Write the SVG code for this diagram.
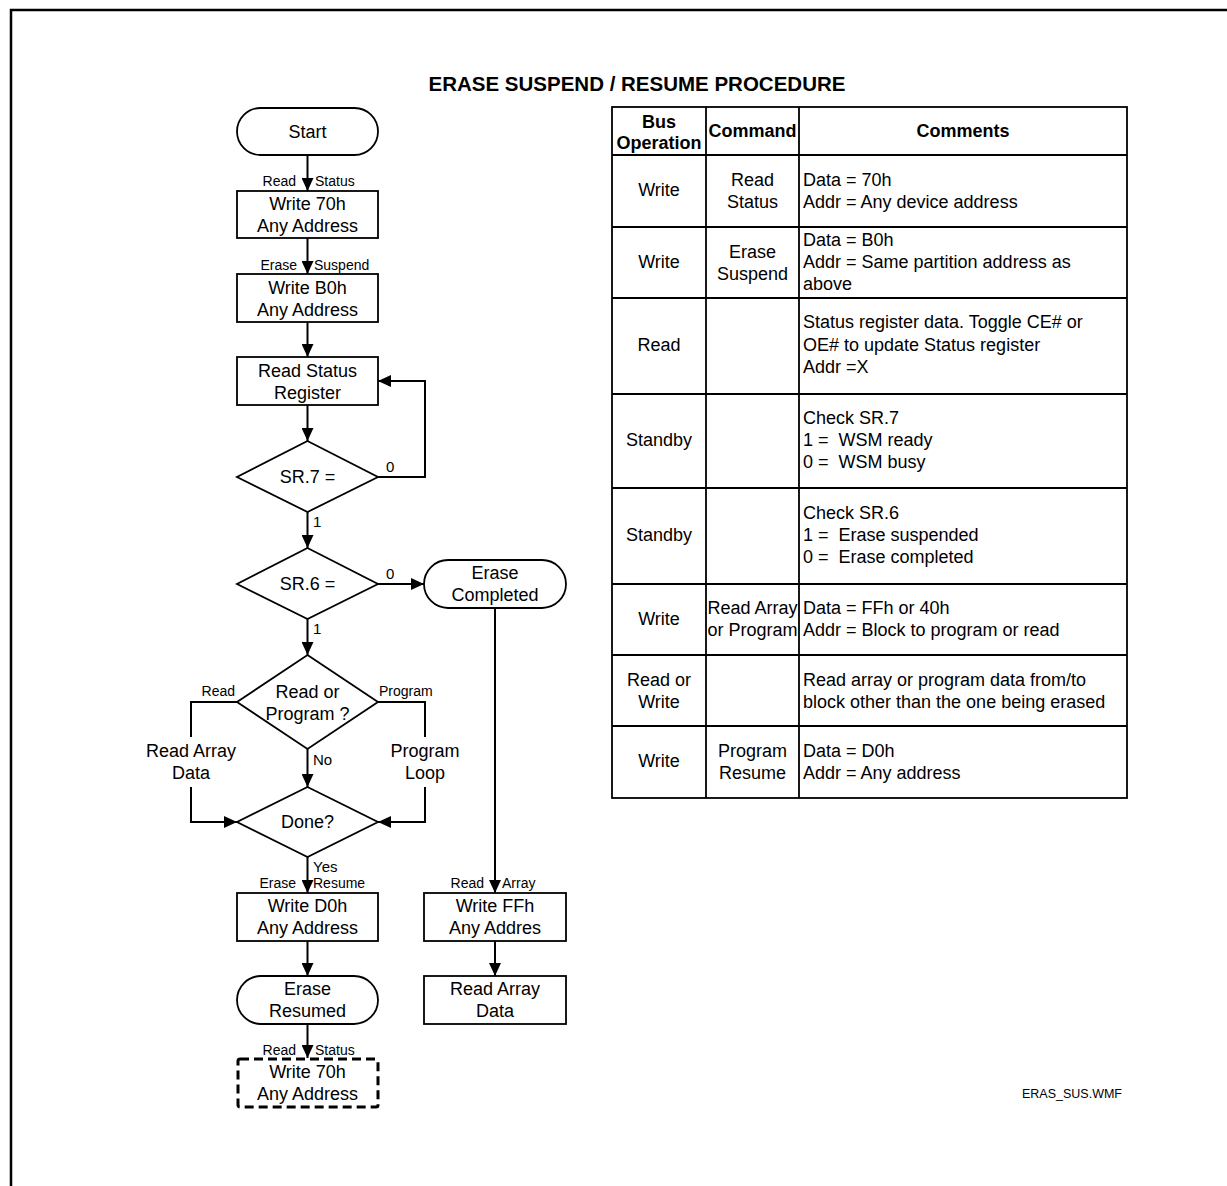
<svg xmlns="http://www.w3.org/2000/svg" width="1227" height="1186" viewBox="0 0 1227 1186">
<defs>
<marker id="arr" markerUnits="userSpaceOnUse" markerWidth="14" markerHeight="12" refX="13" refY="6" orient="auto">
<path d="M0,0 L13,6 L0,12 z" fill="#000"/>
</marker>
<style>
.shape{fill:#fff;stroke:#000;stroke-width:1.8}
.dash{fill:#fff;stroke:#000;stroke-width:3;stroke-dasharray:9 5}
.conn{fill:none;stroke:#000;stroke-width:2}
.arrow{marker-end:url(#arr)}
.t{font-family:"Liberation Sans",Arial,sans-serif;font-size:18px;fill:#000;text-anchor:middle}
.tl{font-family:"Liberation Sans",Arial,sans-serif;font-size:18px;fill:#000}
.s{font-family:"Liberation Sans",Arial,sans-serif;font-size:14px;fill:#000}
.n{font-family:"Liberation Sans",Arial,sans-serif;font-size:15px;fill:#000}
.b{font-family:"Liberation Sans",Arial,sans-serif;font-size:18px;font-weight:bold;fill:#000;text-anchor:middle}
.grid{fill:none;stroke:#000;stroke-width:1.8}
</style>
</defs>
<rect width="1227" height="1186" fill="#fff"/>
<path d="M11,1186 V10 H1227" fill="none" stroke="#000" stroke-width="2.5"/>
<text x="637" y="91" font-family="Liberation Sans, Arial, sans-serif" font-size="20.5" font-weight="bold" text-anchor="middle">ERASE SUSPEND / RESUME PROCEDURE</text>

<g id="connectors">
<line class="conn arrow" x1="307.5" y1="155" x2="307.5" y2="191"/>
<line class="conn arrow" x1="307.5" y1="238" x2="307.5" y2="274"/>
<line class="conn arrow" x1="307.5" y1="322" x2="307.5" y2="357"/>
<line class="conn arrow" x1="307.5" y1="405" x2="307.5" y2="441"/>
<path class="conn arrow" d="M378,477 H425 V381 H378"/>
<line class="conn arrow" x1="307.5" y1="512" x2="307.5" y2="548"/>
<line class="conn arrow" x1="378" y1="584" x2="424" y2="584"/>
<line class="conn arrow" x1="307.5" y1="619" x2="307.5" y2="655"/>
<path class="conn" d="M237,702 H191 V737"/>
<path class="conn arrow" d="M191,787 V822 H237"/>
<path class="conn" d="M378,702 H425 V737"/>
<path class="conn arrow" d="M425,787 V822 H378"/>
<line class="conn arrow" x1="307.5" y1="749" x2="307.5" y2="787"/>
<line class="conn arrow" x1="307.5" y1="857" x2="307.5" y2="893"/>
<line class="conn arrow" x1="307.5" y1="941" x2="307.5" y2="976"/>
<line class="conn arrow" x1="307.5" y1="1024" x2="307.5" y2="1058"/>
<line class="conn arrow" x1="495" y1="608" x2="495" y2="893"/>
<line class="conn arrow" x1="495" y1="941" x2="495" y2="976"/>
<text class="s" x="296" y="186" text-anchor="end">Read</text>
<text class="s" x="315" y="186">Status</text>
<text class="s" x="297" y="270" text-anchor="end">Erase</text>
<text class="s" x="314" y="270">Suspend</text>
<text class="n" x="386" y="472">0</text>
<text class="n" x="313" y="527">1</text>
<text class="n" x="386" y="579">0</text>
<text class="n" x="313" y="634">1</text>
<text class="s" x="235" y="696" text-anchor="end">Read</text>
<text class="s" x="379" y="696">Program</text>
<text class="t" x="191" y="757">Read Array</text>
<text class="t" x="191" y="779">Data</text>
<text class="t" x="425" y="757">Program</text>
<text class="t" x="425" y="779">Loop</text>
<text class="n" x="313" y="765">No</text>
<text class="n" x="313" y="872">Yes</text>
<text class="s" x="296" y="888" text-anchor="end">Erase</text>
<text class="s" x="313" y="888">Resume</text>
<text class="s" x="484" y="888" text-anchor="end">Read</text>
<text class="s" x="502" y="888">Array</text>
<text class="s" x="296" y="1055" text-anchor="end">Read</text>
<text class="s" x="315" y="1055">Status</text>
</g>

<g id="start"><rect class="shape" x="237" y="108" width="141" height="47" rx="23.5"/><text class="t" x="307.5" y="138">Start</text></g>
<g id="write70h"><rect class="shape" x="237" y="191" width="141" height="47"/><text class="t" x="307.5" y="210">Write 70h</text><text class="t" x="307.5" y="232">Any Address</text></g>
<g id="writeB0h"><rect class="shape" x="237" y="274" width="141" height="48"/><text class="t" x="307.5" y="294">Write B0h</text><text class="t" x="307.5" y="316">Any Address</text></g>
<g id="readSR"><rect class="shape" x="237" y="357" width="141" height="48"/><text class="t" x="307.5" y="377">Read Status</text><text class="t" x="307.5" y="399">Register</text></g>
<g id="sr7"><polygon class="shape" points="307.5,441 378,477 307.5,512 237,477"/><text class="t" x="307.5" y="483">SR.7 =</text></g>
<g id="sr6"><polygon class="shape" points="307.5,548 378,584 307.5,619 237,584"/><text class="t" x="307.5" y="590">SR.6 =</text></g>
<g id="eraseCompleted"><rect class="shape" x="424" y="560" width="142" height="48" rx="24"/><text class="t" x="495" y="579">Erase</text><text class="t" x="495" y="601">Completed</text></g>
<g id="readOrProgram"><polygon class="shape" points="307.5,655 378,702 307.5,749 237,702"/><text class="t" x="307.5" y="698">Read or</text><text class="t" x="307.5" y="720">Program ?</text></g>
<g id="done"><polygon class="shape" points="307.5,787 378,822 307.5,857 237,822"/><text class="t" x="307.5" y="828">Done?</text></g>
<g id="writeD0h"><rect class="shape" x="237" y="893" width="141" height="48"/><text class="t" x="307.5" y="912">Write D0h</text><text class="t" x="307.5" y="934">Any Address</text></g>
<g id="writeFFh"><rect class="shape" x="424" y="893" width="142" height="48"/><text class="t" x="495" y="912">Write FFh</text><text class="t" x="495" y="934">Any Addres</text></g>
<g id="eraseResumed"><rect class="shape" x="237" y="976" width="141" height="48" rx="24"/><text class="t" x="307.5" y="995">Erase</text><text class="t" x="307.5" y="1017">Resumed</text></g>
<g id="readArrayData"><rect class="shape" x="424" y="976" width="142" height="48"/><text class="t" x="495" y="995">Read Array</text><text class="t" x="495" y="1017">Data</text></g>
<g id="write70hOptional"><rect class="dash" x="238" y="1059" width="140" height="48" rx="2"/><text class="t" x="307.5" y="1078">Write 70h</text><text class="t" x="307.5" y="1100">Any Address</text></g>

<g id="table">
<rect class="grid" x="612" y="107" width="515" height="691"/>
<path class="grid" d="M706,107 V798 M799,107 V798 M612,155 H1127 M612,227 H1127 M612,298 H1127 M612,394 H1127 M612,488 H1127 M612,584 H1127 M612,655 H1127 M612,726 H1127"/>
<text class="b" x="659" y="128">Bus</text>
<text class="b" x="659" y="149">Operation</text>
<text class="b" x="752.5" y="137">Command</text>
<text class="b" x="963" y="137">Comments</text>

<text class="t" x="659" y="196">Write</text>
<text class="t" x="752.5" y="186">Read</text>
<text class="t" x="752.5" y="208">Status</text>
<text class="tl" x="803" y="186">Data = 70h</text>
<text class="tl" x="803" y="208">Addr = Any device address</text>

<text class="t" x="659" y="268">Write</text>
<text class="t" x="752.5" y="258">Erase</text>
<text class="t" x="752.5" y="280">Suspend</text>
<text class="tl" x="803" y="246">Data = B0h</text>
<text class="tl" x="803" y="268">Addr = Same partition address as</text>
<text class="tl" x="803" y="290">above</text>

<text class="t" x="659" y="351">Read</text>
<text class="tl" x="803" y="328">Status register data. Toggle CE# or</text>
<text class="tl" x="803" y="351">OE# to update Status register</text>
<text class="tl" x="803" y="373">Addr =X</text>

<text class="t" x="659" y="446">Standby</text>
<text class="tl" x="803" y="424">Check SR.7</text>
<text class="tl" x="803" y="446">1 =&#160; WSM ready</text>
<text class="tl" x="803" y="468">0 =&#160; WSM busy</text>

<text class="t" x="659" y="541">Standby</text>
<text class="tl" x="803" y="519">Check SR.6</text>
<text class="tl" x="803" y="541">1 =&#160; Erase suspended</text>
<text class="tl" x="803" y="563">0 =&#160; Erase completed</text>

<text class="t" x="659" y="625">Write</text>
<text class="t" x="752.5" y="614">Read Array</text>
<text class="t" x="752.5" y="636">or Program</text>
<text class="tl" x="803" y="614">Data = FFh or 40h</text>
<text class="tl" x="803" y="636">Addr = Block to program or read</text>

<text class="t" x="659" y="686">Read or</text>
<text class="t" x="659" y="708">Write</text>
<text class="tl" x="803" y="686">Read array or program data from/to</text>
<text class="tl" x="803" y="708">block other than the one being erased</text>

<text class="t" x="659" y="767">Write</text>
<text class="t" x="752.5" y="757">Program</text>
<text class="t" x="752.5" y="779">Resume</text>
<text class="tl" x="803" y="757">Data = D0h</text>
<text class="tl" x="803" y="779">Addr = Any address</text>
</g>

<text x="1072" y="1098" font-family="Liberation Sans, Arial, sans-serif" font-size="12.5" text-anchor="middle">ERAS_SUS.WMF</text>
</svg>
